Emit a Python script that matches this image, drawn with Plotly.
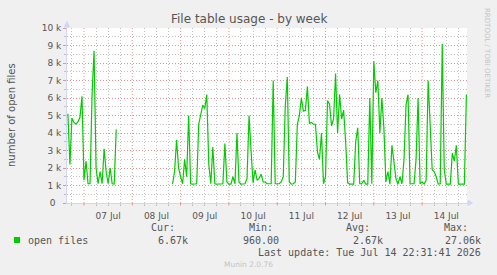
import plotly.graph_objects as go
import pandas as pd

# ---------------- data ----------------
series_start = "2026-07-06 16:00"   # first hourly sample
open_files_k = [
    # Jul 6 16:00 .. Jul 7 16:00
    5.1, 2.2, 4.85, 4.6, 4.5, 4.65, 4.9, 6.1, 1.3, 2.4, 1.1, 1.1, 6.2, 8.7, 2.0, 1.1,
    1.8, 1.1, 3.1, 1.8, 1.1, 2.0, 1.1, 1.08, 4.2,
    # gap Jul 7 17:00 .. Jul 8 19:00
    None, None, None, None, None, None, None, None, None, None, None, None, None, None,
    None, None, None, None, None, None, None, None, None, None, None, None, None,
    # Jul 8 20:00 ..
    1.08, 1.8, 3.6, 2.0, 1.5, 1.1, 2.5, 1.5, 5.0, 1.1, 1.08, 1.08, 1.1, 4.5, 5.0, 5.6,
    5.4, 6.2, 2.2, 1.1, 3.2, 1.1, 1.08, 1.08, 1.08, 1.1, 3.4, 1.2, 1.08, 1.08, 1.5, 1.1,
    4.0, 1.2, 1.08, 1.08, 1.1, 1.4, 5.0, 3.0, 1.15, 1.9, 1.3, 1.4, 1.65, 1.2, 1.2, 1.1,
    1.1, 1.1, 7.0, 1.1, 1.1, 1.1, 1.2, 1.5, 5.5, 7.2, 1.2, 1.08, 1.1, 1.2, 4.5, 5.0,
    6.0, 5.25, 5.3, 6.65, 4.55, 4.6, 4.5, 4.5, 2.9, 2.5, 4.0, 1.1, 1.5, 5.85, 5.65, 4.4,
    4.8, 7.4, 4.0, 6.2, 4.8, 5.3, 3.5, 1.15, 1.08, 1.08, 1.08, 3.5, 4.3, 1.1, 1.1, 1.3,
    1.08, 1.08, 6.0, 1.1, 8.1, 6.3, 7.0, 4.0, 6.0, 4.3, 1.2, 1.8, 1.08, 3.3, 2.2, 1.4,
    1.08, 1.5, 1.1, 2.5, 5.6, 6.2, 1.1, 1.08, 1.1, 2.5, 6.0, 1.1, 1.2, 1.08, 1.3, 7.0,
    4.0, 1.9, 1.8, 1.5, 1.08, 1.1, 9.1, 1.9, 1.08, 1.08, 1.08, 2.85, 2.4, 3.3, 1.08, 1.08,
    1.08, 1.08, 6.2,
]
day_labels = ["07 Jul", "08 Jul", "09 Jul", "10 Jul", "11 Jul", "12 Jul", "13 Jul", "14 Jul"]
day_label_times = ["2026-07-%02d 12:00" % d for d in range(7, 15)]
day_boundaries = ["2026-07-%02d 00:00" % d for d in range(7, 15)]
y_tickvals = [0, 1000, 2000, 3000, 4000, 5000, 6000, 7000, 8000, 9000, 10000]
y_ticktext = ["0\u00a0\u00a0", "1 k", "2 k", "3 k", "4 k", "5 k", "6 k", "7 k", "8 k", "9 k", "10 k"]
y_minor_vals = [500, 1500, 2500, 3500, 4500, 5500, 6500, 7500, 8500, 9500]
legend_name = "open files"
stat_labels = ["Cur:", "Min:", "Avg:", "Max:"]
stat_values = ["6.67k", "960.00", "2.67k", "27.06k"]
last_update = "Last update: Tue Jul 14 22:31:41 2026"

times = pd.date_range(series_start, periods=len(open_files_k), freq="h")
values = [None if v is None else v * 1000 for v in open_files_k]
x_minor_vals = [t for t in pd.date_range("2026-07-06 18:00", "2026-07-14 18:00", freq="6h")
                if t.hour != 0]

# ---------------- layout geometry ----------------
W, H = 497, 275
L, R, T, B = 67, 30, 28, 72
pw, ph = W - L - R, H - T - B
x_range = ["2026-07-06 15:33", "2026-07-14 22:18"]

def px(x, y):
    return (x - L) / pw, (H - B - y) / ph

FONT = "DejaVu Sans"
MONO = "DejaVu Sans Mono"
TXT = "#555555"
MGRID = "#e49494"
GRID = "#c2c2c2"
AXIS = "#CFD6F8"
DASH = "1px,2px"

fig = go.Figure()
fig.add_trace(go.Scatter(x=times, y=values, mode="lines",
                         line=dict(color="#00cc00", width=1.2),
                         connectgaps=False, hoverinfo="skip", showlegend=False))

fig.update_layout(
    width=W, height=H,
    margin=dict(l=L, r=R, t=T, b=B, pad=0),
    paper_bgcolor="#f0f0f0", plot_bgcolor="#ffffff",
    font=dict(family=FONT, size=9, color=TXT),
    xaxis=dict(type="date", range=x_range, tickmode="array", tickvals=day_label_times,
               ticktext=day_labels, showgrid=False, ticks="",
               tickfont=dict(family=FONT, size=9, color=TXT), ticklabelstandoff=4,
               minor=dict(tickmode="array", tickvals=x_minor_vals,
                          showgrid=True, gridcolor=GRID, griddash=DASH, gridwidth=1,
                          ticks="outside", ticklen=2, tickcolor=GRID),
               showline=True, linecolor=AXIS, linewidth=1, zeroline=False),
    yaxis=dict(range=[0, 10000], tickmode="array", tickvals=y_tickvals, ticktext=y_ticktext,
               showgrid=True, gridcolor=MGRID, griddash=DASH, gridwidth=1,
               ticks="outside", ticklen=3, tickcolor=MGRID,
               minor=dict(tickmode="array", tickvals=y_minor_vals, showgrid=True,
                          gridcolor=GRID, griddash=DASH, gridwidth=1,
                          ticks="outside", ticklen=2, tickcolor=GRID),
               showline=True, linecolor=AXIS, linewidth=1, zeroline=False,
               tickfont=dict(family=FONT, size=9, color=TXT)),
)

shapes = []
# day boundary (major) grid lines and their ticks
for d in day_boundaries:
    shapes.append(dict(type="line", xref="x", yref="y", x0=d, x1=d, y0=0, y1=10000,
                       layer="between", line=dict(color=MGRID, width=1, dash=DASH)))
    shapes.append(dict(type="line", xref="x", yref="paper", x0=d, x1=d, y0=0, y1=-2.5 / ph,
                       layer="above", line=dict(color=MGRID, width=1)))
# axis arrows
shapes.append(dict(type="path", xref="paper", yref="paper", xsizemode="pixel", ysizemode="pixel",
                   xanchor=0, yanchor=1, path="M0,0 L0,3 M-2.5,1 L2.5,1 L0,6.5 Z",
                   line=dict(color=AXIS, width=1), fillcolor=AXIS))
shapes.append(dict(type="path", xref="paper", yref="paper", xsizemode="pixel", ysizemode="pixel",
                   xanchor=1, yanchor=0, path="M0,0 L3,0 M1,-2.5 L1,2.5 L5.5,0 Z",
                   line=dict(color=AXIS, width=1), fillcolor=AXIS))
x0, y0 = px(14, 237)
x1, y1 = px(20, 243)
shapes.append(dict(type="rect", xref="paper", yref="paper", x0=x0, y0=y0, x1=x1, y1=y1,
                   line=dict(width=0), fillcolor="#00cc00"))
fig.update_layout(shapes=shapes)

ann = []
def text(x, y, s, xanchor="left", size=10, family=MONO, color=TXT, angle=0):
    ax, ay = px(x, y)
    ann.append(dict(x=ax, y=ay, xref="paper", yref="paper", text=s, showarrow=False,
                    xanchor=xanchor, yanchor="middle", textangle=angle,
                    font=dict(family=family, size=size, color=color)))

text(248.5, 19, "File table usage - by week", "center", 12, FONT)
text(11, 115, "number of open files", "center", 10, FONT, angle=-90)
text(487, 53, "RRDTOOL / TOBI OETIKER", "center", 7, FONT, "#c4c4c4", angle=90)
for lab, xr in zip(stat_labels, [177, 275, 372, 470]):
    text(xr, 227.7, lab, "right")
text(26, 240, legend_name, "left")
for val, xr in zip(stat_values, [190, 281, 385, 483]):
    text(xr, 240, val, "right")
text(483, 252, last_update, "right")
text(248, 264, "Munin 2.0.76", "center", 7.5, FONT, "#c4c4c4")
fig.update_layout(annotations=ann)

fig.write_html("out.html")
